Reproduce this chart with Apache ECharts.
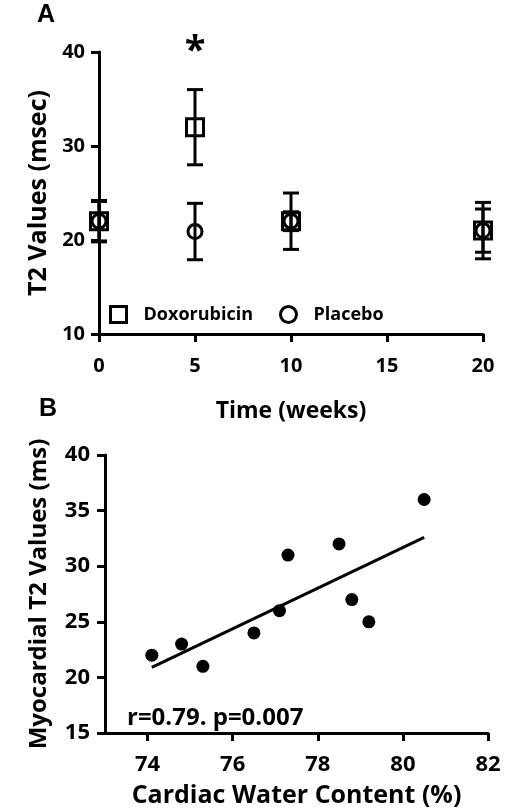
<!DOCTYPE html>
<html><head><meta charset="utf-8">
<script src="https://cdn.jsdelivr.net/npm/echarts@6/dist/echarts.min.js"></script>
<style>html,body{margin:0;padding:0;background:#fff}#c{width:507px;height:809px}</style>
</head><body><div id="c"></div>
<script>
// Panel A data
const weeks = [0, 5, 10, 20];
const doxoMean = [22, 32, 22, 21];
const doxoErr = [2.2, 4, 3, 3];
const placeboMean = [22, 20.9, 22, 21];
const placeboErr = [2.1, 3, 1, 2.3];
const weekTicks = [0, 5, 10, 15, 20];
const t2Ticks = [10, 20, 30, 40];
const sigWeek = [5];
const sigLevel = [40];
const sigMark = '*';
// Panel B data
const waterContent = [74.1, 74.8, 75.3, 76.5, 77.1, 77.3, 78.5, 78.8, 79.2, 80.5];
const myoT2 = [22, 23, 21, 24, 26, 31, 32, 27, 25, 36];
const fitX = [74.1, 80.5];
const fitY = [20.9, 32.6];
const waterTicks = [74, 76, 78, 80, 82];
const myoTicks = [15, 20, 25, 30, 35, 40];
const statText = 'r=0.79. p=0.007';

const FONT = 'Open Sans';
const BLACK = '#000';
const axisLineStyle = { show: true, lineStyle: { color: BLACK, width: 3 } };
const tickStyle = { show: true, length: 8, lineStyle: { color: BLACK, width: 3 } };
function lbl(size, margin) { return { color: BLACK, fontFamily: FONT, fontWeight: 'bold', fontSize: size, margin: margin }; }
function nm(size) { return { color: BLACK, fontFamily: FONT, fontWeight: 'bold', fontSize: size }; }

function errorBars(means, errs) {
  return weeks.map((w, i) => [w, means[i], errs[i]]);
}
function renderErr(params, api) {
  const x = api.value(0), m = api.value(1), e = api.value(2);
  const top = api.coord([x, m + e]);
  const bot = api.coord([x, m - e]);
  const hw = 8;
  const st = { stroke: BLACK, lineWidth: 3 };
  return {
    type: 'group',
    children: [
      { type: 'line', shape: { x1: top[0], y1: top[1], x2: bot[0], y2: bot[1] }, style: st },
      { type: 'line', shape: { x1: top[0] - hw, y1: top[1], x2: top[0] + hw, y2: top[1] }, style: st },
      { type: 'line', shape: { x1: bot[0] - hw, y1: bot[1], x2: bot[0] + hw, y2: bot[1] }, style: st }
    ]
  };
}
const hollow = { color: 'rgba(255,255,255,0)', borderColor: BLACK, borderWidth: 3, opacity: 1 };

const chart = echarts.init(document.getElementById('c'));
chart.setOption({
  backgroundColor: '#fff',
  animation: false,
  textStyle: { fontFamily: FONT },
  grid: [
    { left: 99, right: 24, top: 52, height: 282 },
    { left: 105, right: 19, top: 455, height: 281 }
  ],
  legend: {
    left: 104, top: 300,
    itemWidth: 16, itemHeight: 16, itemGap: 26,
    textStyle: { color: BLACK, fontFamily: FONT, fontWeight: 'bold', fontSize: 18, padding: [0, 0, 0, 12] },
    data: [
      { name: 'Doxorubicin', icon: 'rect', itemStyle: hollow },
      { name: 'Placebo', icon: 'circle', itemStyle: hollow }
    ]
  },
  xAxis: [
    {
      type: 'value', gridIndex: 0, min: weekTicks[0], max: weekTicks[weekTicks.length - 1], interval: 5,
      axisLine: axisLineStyle, axisTick: tickStyle, splitLine: { show: false },
      axisLabel: lbl(20, 22),
      name: 'Time (weeks)', nameLocation: 'middle', nameGap: 66, nameTextStyle: nm(23)
    },
    {
      type: 'value', gridIndex: 1, min: 73, max: 82,
      axisLine: axisLineStyle,
      axisTick: Object.assign({ customValues: waterTicks }, tickStyle),
      splitLine: { show: false },
      axisLabel: Object.assign({ customValues: waterTicks }, lbl(22, 21)),
      name: 'Cardiac Water Content (%)', nameLocation: 'middle', nameGap: 50, nameTextStyle: nm(25)
    }
  ],
  yAxis: [
    {
      type: 'value', gridIndex: 0, min: t2Ticks[0], max: t2Ticks[t2Ticks.length - 1], interval: 10,
      axisLine: axisLineStyle, axisTick: tickStyle, splitLine: { show: false },
      axisLabel: lbl(20, 14),
      name: 'T2 Values (msec)', nameLocation: 'middle', nameGap: 44, nameTextStyle: nm(25)
    },
    {
      type: 'value', gridIndex: 1, min: myoTicks[0], max: myoTicks[myoTicks.length - 1], interval: 5,
      axisLine: axisLineStyle, axisTick: tickStyle, splitLine: { show: false },
      axisLabel: lbl(22, 15),
      name: 'Myocardial T2 Values (ms)', nameLocation: 'middle', nameGap: 54, nameTextStyle: nm(24)
    }
  ],
  graphic: [
    { type: 'text', left: 37, top: 3, style: { text: 'A', fontFamily: 'Liberation Sans', fontWeight: 'bold', fontSize: 25, fill: BLACK } },
    { type: 'text', left: 39, top: 397, style: { text: 'B', fontFamily: 'Liberation Sans', fontWeight: 'bold', fontSize: 25, fill: BLACK } },
    { type: 'text', left: 127, top: 706, style: { text: statText, fontFamily: FONT, fontWeight: 'bold', fontSize: 24, fill: BLACK } }
  ],
  series: [
    { type: 'custom', name: 'DoxoErr', xAxisIndex: 0, yAxisIndex: 0, renderItem: renderErr, data: errorBars(doxoMean, doxoErr), clip: false, z: 2 },
    { type: 'custom', name: 'PlaceboErr', xAxisIndex: 0, yAxisIndex: 0, renderItem: renderErr, data: errorBars(placeboMean, placeboErr), clip: false, z: 2 },
    {
      type: 'scatter', name: 'Doxorubicin', xAxisIndex: 0, yAxisIndex: 0, symbol: 'rect', symbolSize: 17, clip: false, z: 3,
      itemStyle: hollow,
      data: weeks.map((w, i) => [w, doxoMean[i]])
    },
    {
      type: 'scatter', name: 'Placebo', xAxisIndex: 0, yAxisIndex: 0, symbol: 'circle', symbolSize: 14, clip: false, z: 3,
      itemStyle: hollow,
      data: weeks.map((w, i) => [w, placeboMean[i]])
    },
    {
      type: 'scatter', name: 'sig', xAxisIndex: 0, yAxisIndex: 0, symbolSize: 0, clip: false, silent: true,
      itemStyle: { color: BLACK, opacity: 1 },
      label: { show: true, position: 'inside', formatter: sigMark, color: BLACK, opacity: 1, fontFamily: FONT, fontWeight: 'bold', fontSize: 38 },
      data: sigWeek.map((w, i) => [w, sigLevel[i]])
    },
    {
      type: 'line', name: 'fit', xAxisIndex: 1, yAxisIndex: 1, symbol: 'none', silent: true,
      lineStyle: { color: BLACK, width: 3 },
      data: fitX.map((x, i) => [x, fitY[i]])
    },
    {
      type: 'scatter', name: 'T2 vs water', xAxisIndex: 1, yAxisIndex: 1, symbol: 'circle', symbolSize: 13,
      itemStyle: { color: BLACK, opacity: 1 },
      data: waterContent.map((x, i) => [x, myoT2[i]])
    }
  ]
});
</script>
</body></html>
